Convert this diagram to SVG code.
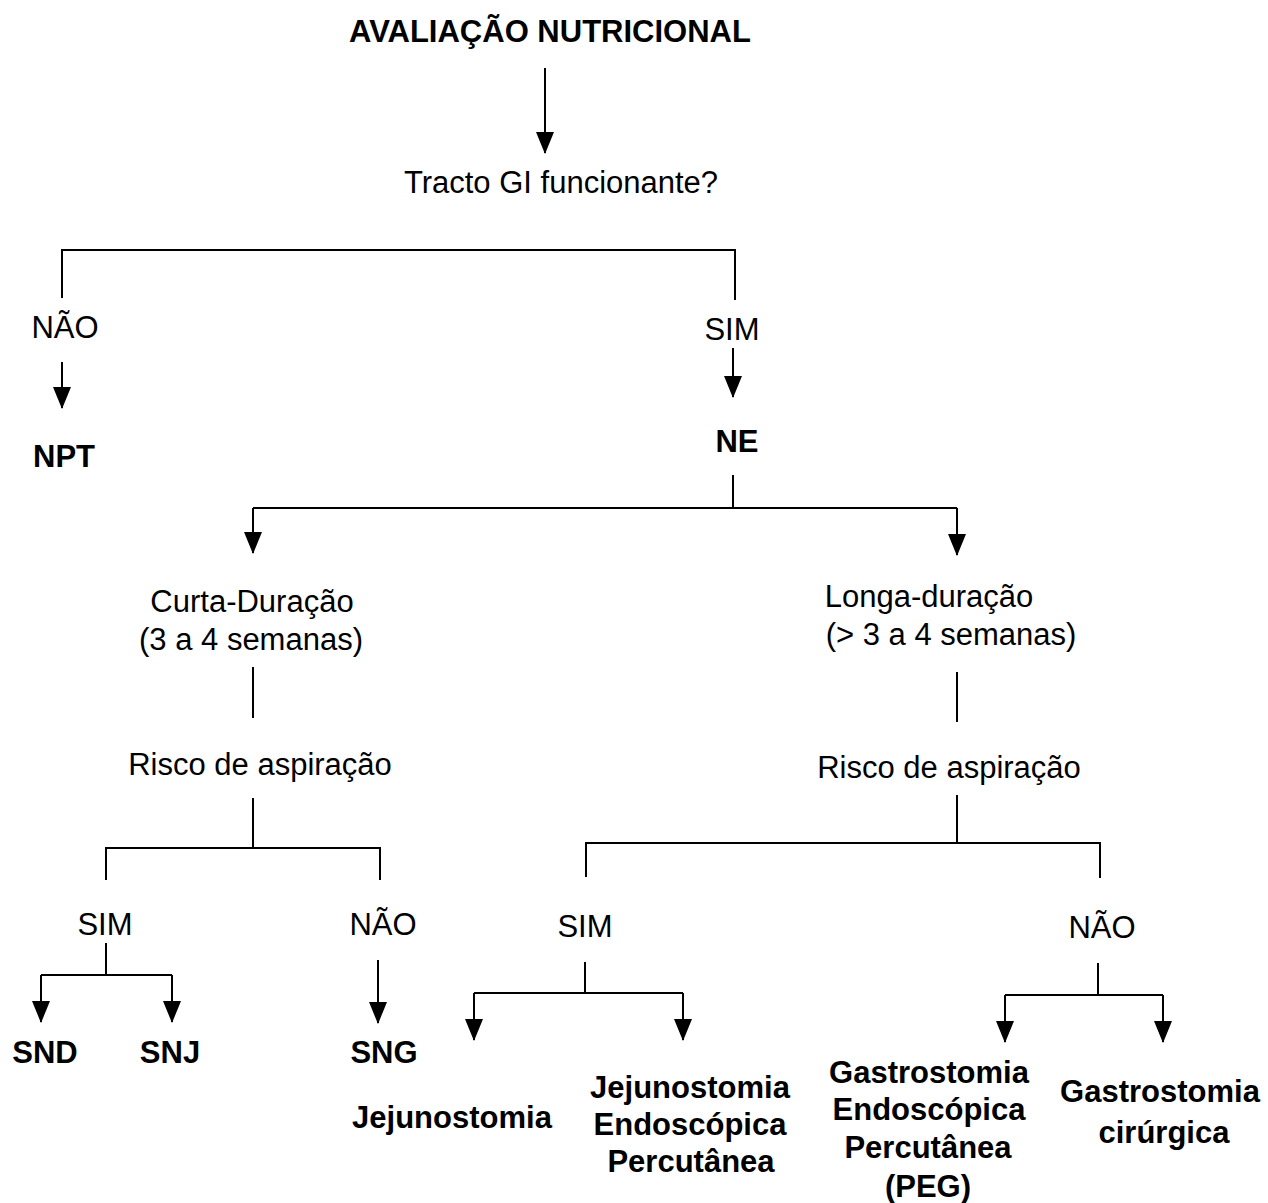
<svg xmlns="http://www.w3.org/2000/svg" width="1268" height="1203" viewBox="0 0 1268 1203">
<style>
text{font-family:"Liberation Sans",Arial,sans-serif;font-size:31px;fill:#000;text-anchor:middle}
.b{font-weight:bold}
.c{fill:none;stroke:#000;stroke-width:2}
</style>
<defs>
<marker id="ah" markerUnits="userSpaceOnUse" markerWidth="22" markerHeight="18" viewBox="0 0 22 18" refX="21" refY="9" orient="auto">
<path d="M0,0 L22,9 L0,18 z" fill="#000"/>
</marker>
</defs>
<rect width="1268" height="1203" fill="#fff"/>
<g id="connectors">
<path class="c" d="M545,68 V153" marker-end="url(#ah)"/>
<path class="c" d="M62,298 V250 H735 V300"/>
<path class="c" d="M62,362 V408" marker-end="url(#ah)"/>
<path class="c" d="M733,348 V397" marker-end="url(#ah)"/>
<path class="c" d="M733,475 V508"/>
<path class="c" d="M253,508 H957"/>
<path class="c" d="M253,508 V553" marker-end="url(#ah)"/>
<path class="c" d="M957,508 V555" marker-end="url(#ah)"/>
<path class="c" d="M253,667 V718"/>
<path class="c" d="M253,798 V848"/>
<path class="c" d="M106,880 V848 H380 V880"/>
<path class="c" d="M106,943 V975"/>
<path class="c" d="M41,975 H172"/>
<path class="c" d="M41,975 V1022" marker-end="url(#ah)"/>
<path class="c" d="M172,975 V1022" marker-end="url(#ah)"/>
<path class="c" d="M378,960 V1023" marker-end="url(#ah)"/>
<path class="c" d="M957,672 V722"/>
<path class="c" d="M957,795 V843"/>
<path class="c" d="M586,877 V843 H1100 V878"/>
<path class="c" d="M585,962 V993"/>
<path class="c" d="M474,993 H683"/>
<path class="c" d="M474,993 V1040" marker-end="url(#ah)"/>
<path class="c" d="M683,993 V1040" marker-end="url(#ah)"/>
<path class="c" d="M1098,963 V995"/>
<path class="c" d="M1005,995 H1163"/>
<path class="c" d="M1005,995 V1042" marker-end="url(#ah)"/>
<path class="c" d="M1163,995 V1042" marker-end="url(#ah)"/>
</g>
<g id="title"><text class="b" x="550" y="42">AVALIAÇÃO NUTRICIONAL</text></g>
<g id="tracto"><text x="561" y="193">Tracto GI funcionante?</text></g>
<g id="nao-top"><text x="65" y="338">NÃO</text></g>
<g id="npt"><text class="b" x="64" y="467">NPT</text></g>
<g id="sim-top"><text x="732" y="340">SIM</text></g>
<g id="ne"><text class="b" x="737" y="452">NE</text></g>
<g id="curta"><text x="252" y="612">Curta-Duração</text><text x="251" y="650">(3 a 4 semanas)</text></g>
<g id="longa"><text x="929" y="607">Longa-duração</text><text x="951" y="645">(&gt; 3 a 4 semanas)</text></g>
<g id="risco-left"><text x="260" y="775">Risco de aspiração</text></g>
<g id="risco-right"><text x="949" y="778">Risco de aspiração</text></g>
<g id="sim-left"><text x="105" y="935">SIM</text></g>
<g id="nao-left"><text x="383" y="935">NÃO</text></g>
<g id="sim-right"><text x="585" y="937">SIM</text></g>
<g id="nao-right"><text x="1102" y="938">NÃO</text></g>
<g id="snd"><text class="b" x="45" y="1063">SND</text></g>
<g id="snj"><text class="b" x="170" y="1063">SNJ</text></g>
<g id="sng"><text class="b" x="384" y="1063">SNG</text></g>
<g id="jejuno"><text class="b" x="452" y="1128">Jejunostomia</text></g>
<g id="jep"><text class="b" x="690" y="1098">Jejunostomia</text><text class="b" x="690" y="1135">Endoscópica</text><text class="b" x="691" y="1172">Percutânea</text></g>
<g id="peg"><text class="b" x="929" y="1083">Gastrostomia</text><text class="b" x="929" y="1120">Endoscópica</text><text class="b" x="928" y="1158">Percutânea</text><text class="b" x="928" y="1197">(PEG)</text></g>
<g id="gcir"><text class="b" x="1160" y="1102">Gastrostomia</text><text class="b" x="1164" y="1143">cirúrgica</text></g>
</svg>
